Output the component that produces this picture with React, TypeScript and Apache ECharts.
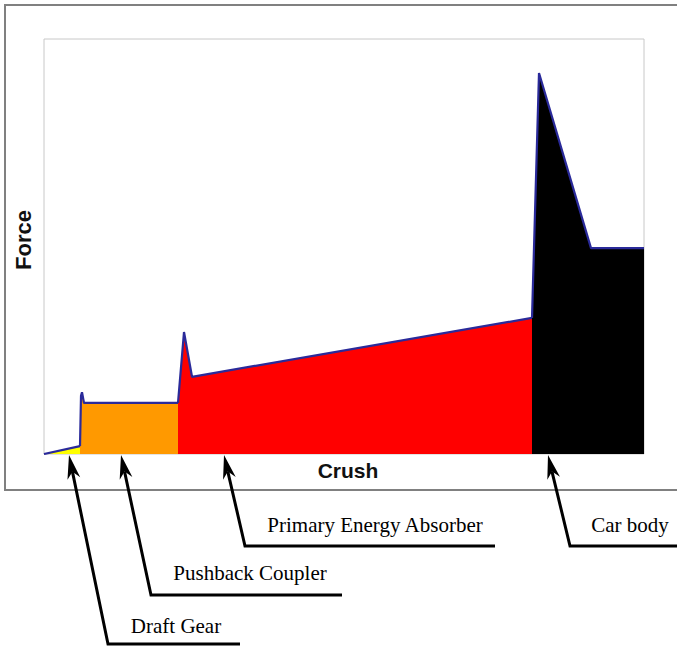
import React, { useEffect, useRef } from "react";
import * as echarts from "echarts";

// Force–crush curve, split by the component that absorbs the energy
const draftGear: [number, number][] = [[0, 0], [0.72, 0.19]];
const pushbackCoupler: [number, number][] = [[0.72, 0.19], [0.74, 1.40], [0.76, 1.49], [0.80, 1.23], [2.68, 1.23]];
const primaryAbsorber: [number, number][] = [[2.68, 1.23], [2.80, 2.94], [2.96, 1.86], [9.76, 3.28]];
const carBody: [number, number][] = [[9.76, 3.28], [9.90, 9.18], [10.94, 4.96], [12, 4.96]];

const seriesNames = ["Draft Gear", "Pushback Coupler", "Primary Energy Absorber", "Car body"];
const seriesColors = ["#ffff00", "#ff9900", "#ff0000", "#000000"];
// crush position each callout arrow points at
const calloutCrush = [0.5, 1.54, 3.6, 10.08];
const axisTitles = { x: "Crush", y: "Force" };

const OUTLINE = "#2a2a9a";

// callout layout: corner of the leader, end of the underline, label centre
const calloutLayout = [
  { corner: [108, 644], end: [240, 644], label: [176, 626] },
  { corner: [151, 595], end: [342, 595], label: [250, 573] },
  { corner: [245, 546], end: [495, 546], label: [375, 525] },
  { corner: [570, 546], end: [690, 546], label: [630, 525] },
];

function arrow(tip: number[], corner: number[], end: number[]) {
  const dx = corner[0] - tip[0];
  const dy = corner[1] - tip[1];
  const len = Math.hypot(dx, dy);
  const ux = dx / len, uy = dy / len;
  const nx = -uy, ny = ux;
  const L = 24, w = 6.5, notch = 7;
  const back = [tip[0] + ux * (L - notch), tip[1] + uy * (L - notch)];
  return [
    {
      type: "polyline",
      shape: { points: [back, corner, end] },
      style: { stroke: "#000", lineWidth: 3, fill: null },
      z: 100,
    },
    {
      type: "polygon",
      shape: {
        points: [
          tip,
          [tip[0] + ux * L + nx * w, tip[1] + uy * L + ny * w],
          back,
          [tip[0] + ux * L - nx * w, tip[1] + uy * L - ny * w],
        ],
      },
      style: { fill: "#000" },
      z: 100,
    },
  ];
}

export default function App() {
  const ref = useRef<HTMLDivElement>(null);
  useEffect(() => {
    if (!ref.current) return;
    const chart = echarts.init(ref.current, undefined, { renderer: "svg" });
    const datasets = [draftGear, pushbackCoupler, primaryAbsorber, carBody];
    chart.setOption({
      animation: false,
      backgroundColor: "#fff",
      grid: {
        left: 44,
        top: 39,
        right: 33,
        bottom: 192,
        show: true,
        borderColor: "#c8c8c8",
        borderWidth: 1,
        backgroundColor: "transparent",
      },
      xAxis: {
        type: "value",
        min: 0,
        max: 12,
        axisLine: { show: false },
        axisTick: { show: false },
        axisLabel: { show: false },
        splitLine: { show: false },
      },
      yAxis: {
        type: "value",
        min: 0,
        max: 10,
        axisLine: { show: false },
        axisTick: { show: false },
        axisLabel: { show: false },
        splitLine: { show: false },
      },
      series: datasets.map((d, i) => ({
        type: "line",
        name: seriesNames[i],
        data: d,
        symbol: "none",
        lineStyle: { color: OUTLINE, width: 2.2 },
        areaStyle: { color: seriesColors[i], opacity: 1 },
        z: 2 + i,
      })),
    });

    const graphics: any[] = [
      {
        type: "rect",
        shape: { x: 5, y: 5, width: 690, height: 485 },
        style: { fill: null, stroke: "#808080", lineWidth: 2 },
        z: -1,
      },
      {
        type: "text",
        x: 348,
        y: 470,
        style: {
          text: axisTitles.x,
          fontFamily: "Liberation Sans, Arial",
          fontWeight: "bold",
          fontSize: 21,
          fill: "#111",
          align: "center",
          verticalAlign: "middle",
        },
        z: 100,
      },
      {
        type: "text",
        x: 23,
        y: 240,
        rotation: Math.PI / 2,
        style: {
          text: axisTitles.y,
          fontFamily: "Liberation Sans, Arial",
          fontWeight: "bold",
          fontSize: 22,
          fill: "#111",
          align: "center",
          verticalAlign: "middle",
        },
        z: 100,
      },
    ];
    calloutLayout.forEach((c, i) => {
      const tip = chart.convertToPixel({ gridIndex: 0 }, [calloutCrush[i], 0]) as number[];
      const t = [tip[0], tip[1] + 1];
      graphics.push(...arrow(t, c.corner, c.end));
      graphics.push({
        type: "text",
        x: c.label[0],
        y: c.label[1],
        style: {
          text: seriesNames[i],
          fontFamily: "Liberation Serif, Times New Roman, serif",
          fontSize: 21,
          fill: "#000",
          align: "center",
          verticalAlign: "middle",
        },
        z: 100,
      });
    });
    chart.setOption({ graphic: graphics });

    return () => chart.dispose();
  }, []);
  return (
    <div
      ref={ref}
      style={{ position: "fixed", left: 0, top: 0, width: 677, height: 646 }}
    />
  );
}
